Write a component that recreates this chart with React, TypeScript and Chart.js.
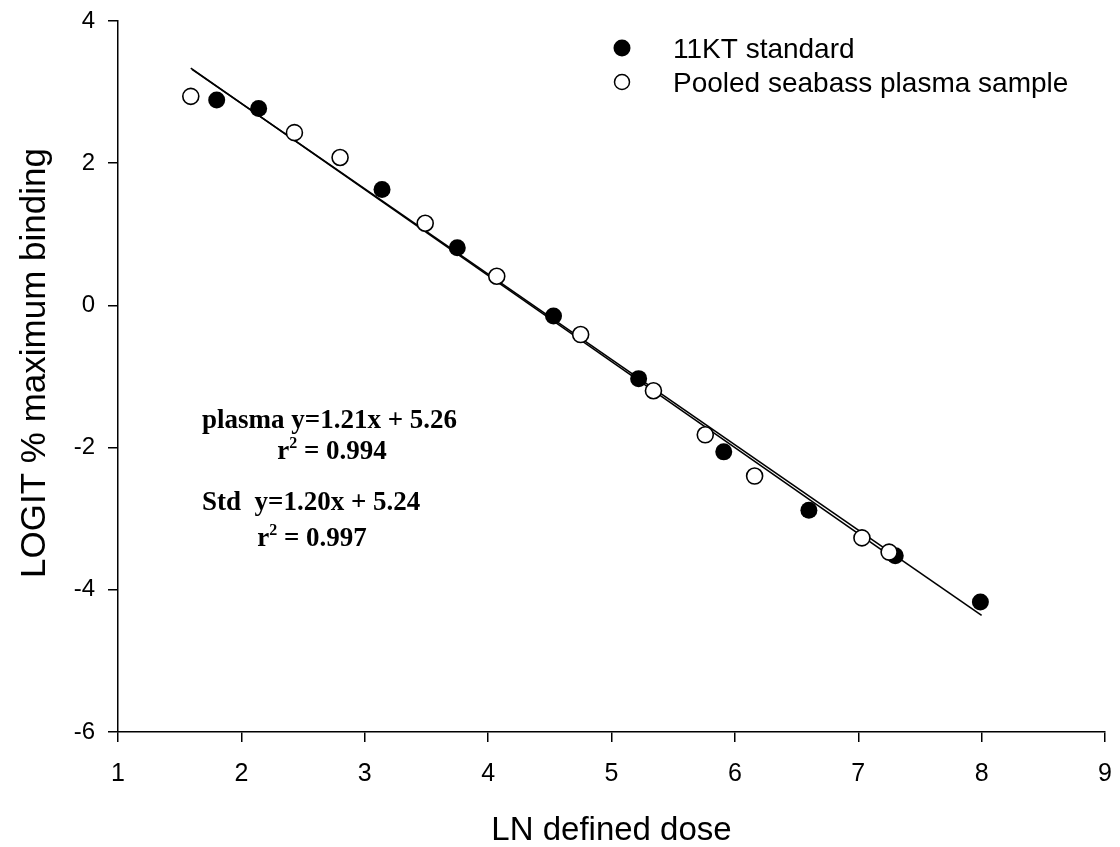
import React, { useEffect, useRef } from "react";
import { Chart, registerables } from "chart.js";

Chart.register(...registerables);

// 11KT standard (filled circles)
const stdX = [1.8, 2.14, 3.14, 3.75, 4.53, 5.22, 5.91, 6.6, 7.3, 7.99];
const stdY = [2.89, 2.77, 1.63, 0.81, -0.15, -1.03, -2.06, -2.88, -3.52, -4.17];

// Pooled seabass plasma sample (open circles)
const plasmaX = [1.59, 2.43, 2.8, 3.49, 4.07, 4.75, 5.34, 5.76, 6.16, 7.03, 7.25];
const plasmaY = [2.94, 2.43, 2.08, 1.155, 0.41, -0.41, -1.2, -1.82, -2.4, -3.27, -3.47];

// Fitted regression lines (end points)
const plasmaFitX = [1.59, 7.25];
const plasmaFitY = [3.336, -3.513];
const stdFitX = [1.6, 8.0];
const stdFitY = [3.32, -4.36];

const xTicks = [1, 2, 3, 4, 5, 6, 7, 8, 9];
const yTicks = [-6, -4, -2, 0, 2, 4];

const legendLabels = ["11KT standard", "Pooled seabass plasma sample"];
const xTitle = "LN defined dose";
const yTitle = "LOGIT % maximum binding";
const eqPlasma = "plasma y=1.21x + 5.26";
const r2Plasma = " = 0.994";
const eqStd = "Std  y=1.20x + 5.24";
const r2Std = " = 0.997";

const SANS = "'Liberation Sans', Arial, sans-serif";
const SERIF = "'Liberation Serif', 'Times New Roman', serif";

export default function App() {
  const ref = useRef<HTMLCanvasElement>(null);

  useEffect(() => {
    const overlay = {
      id: "overlay",
      afterDraw(chart: any) {
        const ctx = chart.ctx as CanvasRenderingContext2D;
        ctx.save();
        // Y axis title
        ctx.save();
        ctx.fillStyle = "#000";
        ctx.font = `35px ${SANS}`;
        ctx.translate(45, 363);
        ctx.rotate(-Math.PI / 2);
        ctx.textAlign = "center";
        ctx.textBaseline = "alphabetic";
        ctx.fillText(yTitle, 0, 0);
        ctx.restore();

        // Legend
        ctx.fillStyle = "#000";
        ctx.strokeStyle = "#000";
        ctx.beginPath();
        ctx.arc(622, 48, 8.5, 0, Math.PI * 2);
        ctx.fill();
        ctx.beginPath();
        ctx.lineWidth = 1.5;
        ctx.arc(622, 82, 7.5, 0, Math.PI * 2);
        ctx.fillStyle = "#fff";
        ctx.fill();
        ctx.stroke();
        ctx.fillStyle = "#000";
        ctx.font = `28px ${SANS}`;
        ctx.textBaseline = "alphabetic";
        ctx.textAlign = "left";
        ctx.fillText(legendLabels[0], 673, 58);
        ctx.fillText(legendLabels[1], 673, 92);

        // Equations
        const big = `bold 27px ${SERIF}`;
        const small = `bold 16px ${SERIF}`;
        const drawR2 = (cx: number, by: number, rest: string) => {
          ctx.font = big;
          const wr = ctx.measureText("r").width;
          ctx.font = small;
          const w2 = ctx.measureText("2").width;
          ctx.font = big;
          const wrest = ctx.measureText(rest).width;
          const total = wr + w2 + wrest;
          let x = cx - total / 2;
          ctx.textAlign = "left";
          ctx.textBaseline = "alphabetic";
          ctx.fillText("r", x, by);
          x += wr;
          ctx.font = small;
          ctx.fillText("2", x, by - 11);
          x += w2;
          ctx.font = big;
          ctx.fillText(rest, x, by);
        };
        ctx.font = big;
        ctx.textBaseline = "alphabetic";
        ctx.textAlign = "left";
        ctx.fillText(eqPlasma, 202, 428);
        drawR2(332, 459, r2Plasma);
        ctx.font = big;
        ctx.fillText(eqStd, 202, 510);
        drawR2(312, 546, r2Std);
        ctx.restore();
      },
    };

    const chart = new Chart(ref.current as HTMLCanvasElement, {
      type: "scatter",
      data: {
        datasets: [
          {
            label: legendLabels[1],
            data: plasmaX.map((x, i) => ({ x, y: plasmaY[i] })),
            pointRadius: 8,
            pointBackgroundColor: "#fff",
            pointBorderColor: "#000",
            pointBorderWidth: 1.6,
            order: 0,
          },
          {
            label: legendLabels[0],
            data: stdX.map((x, i) => ({ x, y: stdY[i] })),
            pointRadius: 8.5,
            pointBackgroundColor: "#000",
            pointBorderColor: "#000",
            pointBorderWidth: 0,
            order: 1,
          },
          {
            label: "plasma fit",
            data: plasmaFitX.map((x, i) => ({ x, y: plasmaFitY[i] })),
            showLine: true,
            pointRadius: 0,
            borderColor: "#000",
            borderWidth: 1.6,
            order: 2,
          },
          {
            label: "std fit",
            data: stdFitX.map((x, i) => ({ x, y: stdFitY[i] })),
            showLine: true,
            pointRadius: 0,
            borderColor: "#000",
            borderWidth: 1.6,
            order: 2,
          },
        ],
      },
      options: {
        animation: false,
        responsive: false,
        devicePixelRatio: 1,
        layout: { padding: { left: 0, top: 21, right: 15, bottom: 0 } },
        plugins: {
          legend: { display: false },
          tooltip: { enabled: false },
        },
        scales: {
          x: {
            type: "linear",
            min: 1,
            max: 9,
            afterBuildTicks: (s: any) => {
              s.ticks = xTicks.map((v) => ({ value: v }));
            },
            afterFit: (s: any) => {
              s.height = 115;
              s.paddingLeft = 0;
              s.paddingRight = 0;
            },
            border: { display: true, color: "#000", width: 1.5 },
            grid: {
              display: true,
              drawOnChartArea: false,
              drawTicks: true,
              tickLength: 10,
              color: "#000",
              lineWidth: 1.5,
            },
            ticks: {
              color: "#000",
              font: { family: SANS, size: 25 },
              padding: 17,
              maxRotation: 0,
              autoSkip: false,
            },
            title: {
              display: true,
              text: xTitle,
              color: "#000",
              font: { family: SANS, size: 33, lineHeight: 1 },
              padding: { top: 0, bottom: 0 },
            },
          },
          y: {
            type: "linear",
            min: -6,
            max: 4,
            afterBuildTicks: (s: any) => {
              s.ticks = yTicks.map((v) => ({ value: v }));
            },
            afterFit: (s: any) => {
              s.width = 118;
              s.paddingTop = 0;
              s.paddingBottom = 0;
            },
            border: { display: true, color: "#000", width: 1.5 },
            grid: {
              display: true,
              drawOnChartArea: false,
              drawTicks: true,
              tickLength: 10,
              color: "#000",
              lineWidth: 1.5,
            },
            ticks: {
              color: "#000",
              font: { family: SANS, size: 24 },
              padding: 13,
              autoSkip: false,
            },
            title: { display: false },
          },
        },
      },
      plugins: [overlay],
    });
    return () => chart.destroy();
  }, []);

  return (
    <div
      style={{
        position: "fixed",
        left: 0,
        top: 0,
        width: 1120,
        height: 847,
        background: "#fff",
      }}
    >
      <canvas ref={ref} width={1120} height={847} style={{ width: 1120, height: 847 }} />
    </div>
  );
}
